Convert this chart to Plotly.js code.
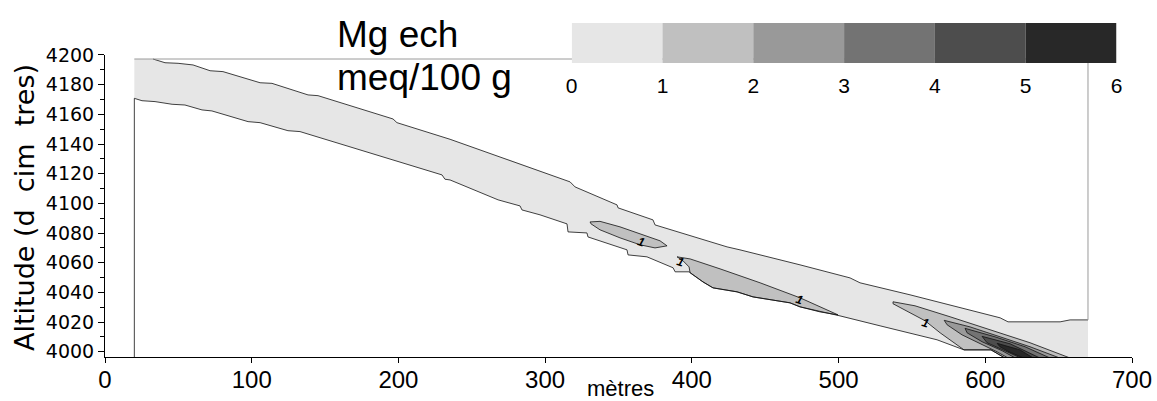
<!DOCTYPE html>
<html><head><meta charset="utf-8">
<script src="https://cdn.plot.ly/plotly-3.0.1.min.js"></script>
<style>html,body{margin:0;padding:0;background:#fff;}#chart{width:1157px;height:401px;}</style>
</head><body><div id="chart"></div>
<script>
// grid extent (blanked outline)
const gridX = [20, 670];
const gridTop = 4197.3;
const gridBottom = 3995;

// band upper edge (left -> right)
const upperX = [20,32.7,40.9,49.8,60.0,71.6,80.4,105.7,113.8,138.4,145.2,196.3,199.0,235.2,269.2,276.1,317.0,320.4,340.8,349.0,349.7,373.5,374.9,424.0,432.8,469.0,473.7,507.8,514.6,548.7,582.8,610.1,615.5,651.0,657.8,670];
const upperY = [4197.3,4197.3,4194.8,4194.4,4193.3,4189.4,4188.8,4181.3,4180.9,4173.1,4172.6,4156.9,4154.4,4143.2,4131.3,4129.3,4114.5,4111.1,4102.4,4099.0,4097.0,4088.9,4085.5,4070.7,4068.7,4059.9,4058.6,4049.8,4046.5,4038.4,4029.6,4022.9,4020.2,4020.2,4021.5,4021.5];

// band lower edge (left -> right)
const lowerX = [20,25.2,34.1,45.7,54.5,66.1,72.9,97.5,105.7,124.7,132.9,229.7,231.7,235.2,267.9,282.9,284.2,296.5,314.9,315.6,328.5,329.2,355.8,356.5,369.4,387.2,388.6,398.1,407.6,414.4,430.8,441.7,455.3,466.9,473.7,501.0,528.3,567.1,585.5,603.9,614.8];
const lowerY = [4170.8,4169.2,4168.6,4166.8,4166.3,4163.0,4162.3,4155.1,4154.4,4149.0,4148.4,4119.2,4116.3,4115.8,4102.4,4098.3,4095.6,4092.3,4086.2,4080.8,4080.1,4077.4,4068.7,4065.3,4064.0,4056.6,4053.9,4053.9,4047.1,4043.1,4040.4,4037.0,4035.0,4033.0,4030.3,4024.2,4017.5,4008.1,4001.3,4001.3,3995];

// contour zones (level 1-2)
const zoneAX = [330.6,337.4,351.0,364.7,378.3,383.1,374.9,364.7,351.0,337.4,331.3];
const zoneAY = [4087.5,4087.9,4084.2,4079.5,4074.8,4071.4,4070.0,4072.1,4076.8,4082.2,4086.2];
const zoneBX = [389.9,398.8,419.2,446.5,473.7,499.6,487.3,473.7,466.9,455.3,441.7,430.8,414.4,407.6,398.8,398.1,394.0];
const zoneBY = [4064.0,4062.6,4055.9,4046.5,4036.4,4024.9,4026.9,4030.3,4033.0,4035.0,4037.0,4040.4,4043.1,4047.1,4053.2,4057.2,4061.3];
const zoneCX = [537.1,552.1,576.0,603.2,630.5,660,614.8,603.9,585.5,569.2,559.0,548.7,537.1];
const zoneCY = [4033.7,4031.0,4023.6,4014.8,4006.1,3995,3995,4001.3,4001.3,4012.8,4020.9,4026.3,4032.4];
// levels 2-3 .. 5-6
const lev2X = [572.0,589.6,610.1,630.5,653,617,608.0,597.8,584.2,574.0];
const lev2Y = [4021.2,4016.8,4010.1,4003.4,3995,3995,4000.0,4004.7,4011.4,4018.2];
const lev3X = [586.2,606.6,627.1,646,622,611.5,597.8,587.6];
const lev3Y = [4015.8,4010.1,4003.4,3995,3995,4000.7,4006.8,4012.8];
const lev4X = [597.8,616.9,639,626,614.9,601.2];
const lev4Y = [4010.4,4005.4,3995,3995,4000.0,4006.1];
const lev5X = [608.1,623.7,634,628,616.2,610.0];
const lev5Y = [4005.7,4001.3,3995,3995,4000.0,4003.4];

// contour labels
const labelX = [365.4,392.0,473.7,559.0];
const labelY = [4074.1,4060.6,4035.0,4019.5];
const labelText = ['1','1','1','1'];

// colour scale
const levels = [0,1,2,3,4,5,6];
const levelColors = ['#e6e6e6','#c0c0c0','#999999','#737373','#4d4d4d','#282828'];

const FONT = 'Liberation Sans, Arial, sans-serif';
const WIDE = 'DejaVu Sans, sans-serif';
const traces = [];

// band fill
const bandX = upperX.concat([gridX[1]], lowerX.slice().reverse());
const bandY = upperY.concat([gridBottom], lowerY.slice().reverse());
traces.push({x: bandX, y: bandY, mode:'lines', fill:'toself', fillcolor: levelColors[0], line:{width:0, color: levelColors[0]}, hoverinfo:'skip'});

function zone(xs, ys, col){
  traces.push({x: xs.concat([xs[0]]), y: ys.concat([ys[0]]), mode:'lines', fill:'toself', fillcolor: col, line:{width:0.8, color:'#111'}, hoverinfo:'skip'});
}
zone(zoneAX, zoneAY, levelColors[1]);
zone(zoneBX, zoneBY, levelColors[1]);
zone(zoneCX, zoneCY, levelColors[1]);
zone(lev2X, lev2Y, levelColors[2]);
zone(lev3X, lev3Y, levelColors[3]);
zone(lev4X, lev4Y, levelColors[4]);
zone(lev5X, lev5Y, levelColors[5]);

// band edges
traces.push({x: upperX.slice(1), y: upperY.slice(1), mode:'lines', line:{width:0.8, color:'#111'}, hoverinfo:'skip'});
traces.push({x: [gridX[0]].concat(lowerX), y: [gridBottom].concat(lowerY), mode:'lines', line:{width:0.8, color:'#111'}, hoverinfo:'skip'});
// grid outline (top and right)
traces.push({x: [gridX[0], gridX[1], gridX[1]], y: [gridTop, gridTop, upperY[upperY.length-1]], mode:'lines', line:{width:1, color:'#9a9a9a'}, hoverinfo:'skip'});

// colour bar as bars
traces.push({type:'bar', x: levelColors.map((c,i)=> (levels[i]+levels[i+1])/2), y: levelColors.map(()=>1), width: levelColors.map(()=>1), marker:{color: levelColors, line:{width:0}}, xaxis:'x2', yaxis:'y2', hoverinfo:'skip'});

const annotations = labelX.map((x,i)=>({x:x, y:labelY[i], xref:'x', yref:'y', text:'<b><i>'+labelText[i]+'</i></b>', showarrow:false, textangle:18, font:{family:FONT, size:12, color:'#000'}}));
annotations.push({xref:'paper', yref:'paper', x:0.224, y:0.93, xanchor:'left', yanchor:'middle', text:'Mg ech', showarrow:false, font:{family:FONT, size:37, color:'#000'}});
annotations.push({xref:'paper', yref:'paper', x:0.224, y:0.805, xanchor:'left', yanchor:'middle', text:'meq/100 g', showarrow:false, font:{family:FONT, size:37, color:'#000'}});
annotations.push({xref:'paper', yref:'paper', x:-0.0789, y:0.432, xanchor:'center', yanchor:'middle', textangle:-90, text:'Altitude (d\u00a0\u00a0cim\u00a0\u00a0tres)', showarrow:false, font:{family:WIDE, size:27, color:'#000'}});
annotations.push({xref:'paper', yref:'paper', x:0.5015, y:-0.092, xanchor:'center', yanchor:'middle', text:'mètres', showarrow:false, font:{family:FONT, size:22, color:'#000'}});

const layout = {
  width:1157, height:401,
  margin:{l:105, r:25, t:10, b:44},
  paper_bgcolor:'#fff', plot_bgcolor:'rgba(0,0,0,0)',
  showlegend:false,
  font:{family:FONT, color:'#000'},
  xaxis:{domain:[0,1], range:[0,700], tick0:0, dtick:100, ticks:'outside', ticklen:5, tickcolor:'#000', ticklabelstandoff:-4, showline:true, linecolor:'#000', linewidth:1, showgrid:false, zeroline:false, tickfont:{family:FONT, size:24}, anchor:'y'},
  yaxis:{domain:[0,0.87032], range:[3996.5,4200], tick0:4000, dtick:20, ticks:'outside', ticklen:6, tickcolor:'#000', minor:{dtick:10, ticks:'outside', ticklen:4, tickcolor:'#000'}, showline:true, linecolor:'#000', linewidth:1, showgrid:false, zeroline:false, tickfont:{family:WIDE, size:19}, anchor:'x'},
  xaxis2:{domain:[0.45443,0.98491], range:[0,6], anchor:'y2', tickvals:levels, ticktext:levels.map(String), ticks:'outside', ticklen:4, tickcolor:'rgba(0,0,0,0)', showline:false, showgrid:false, zeroline:false, tickfont:{family:FONT, size:21}},
  yaxis2:{domain:[0.84726,0.96254], range:[0,1], anchor:'x2', visible:false},
  annotations: annotations
};
Plotly.newPlot('chart', traces, layout, {displayModeBar:false, staticPlot:true});
</script></body></html>
